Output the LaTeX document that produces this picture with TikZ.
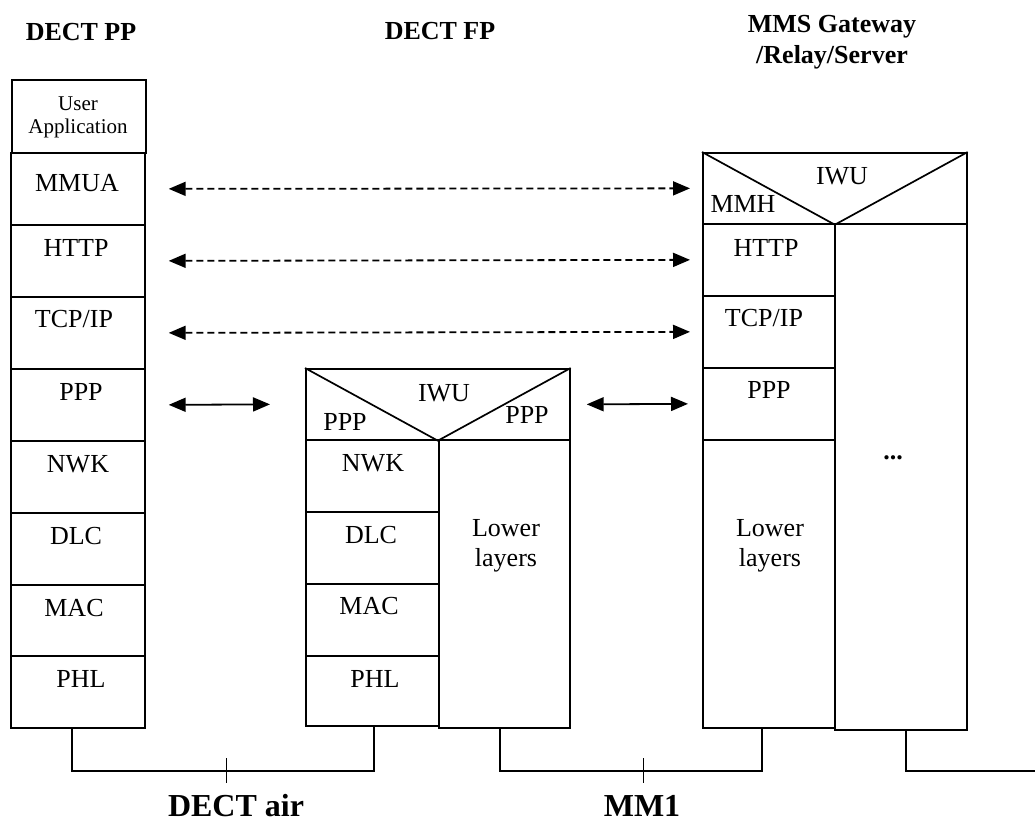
\documentclass[tikz,border=0pt]{standalone}
\usepackage{fontspec}
\setmainfont{Liberation Serif}
\usetikzlibrary{arrows.meta}
\begin{document}
\begin{tikzpicture}[x=1pt,y=-1pt,
  blk/.style={draw, line width=1.7pt, inner sep=0pt, anchor=north west},
  lbl/.style={inner sep=0pt, font=\fontsize{26}{30}\selectfont, align=center},
  small/.style={inner sep=0pt, font=\fontsize{21}{23}\selectfont, align=center},
  title/.style={inner sep=0pt, font=\bfseries\fontsize{26}{31}\selectfont, align=center},
  iface/.style={inner sep=0pt, font=\bfseries\fontsize{32}{36}\selectfont},
  peer/.style={line width=1.8pt, dash pattern=on 7pt off 4pt, {Triangle[length=17pt,width=14pt]}-{Triangle[length=17pt,width=14pt]}},
  link/.style={line width=1.8pt, {Triangle[length=17pt,width=14pt]}-{Triangle[length=17pt,width=14pt]}},
  bus/.style={line width=1.4pt},
  tickmark/.style={line width=1pt}]
\useasboundingbox (0,0) rectangle (1035,823);

% ---------- titles ----------
\node[title] (ttlPP) at (81,32) {DECT PP};
\node[title] (ttlFP) at (440,31) {DECT FP};
\node[title] (ttlGW) at (832,42) {MMS Gateway\\/Relay/Server};

% ---------- DECT PP stack ----------
\node[blk, minimum width=134pt, minimum height=73pt] (ppApp) at (11,79) {};
\node[blk, minimum width=134pt, minimum height=72pt] (ppMmua) at (10,152) {};
\node[blk, minimum width=134pt, minimum height=72pt] (ppHttp) at (10,224) {};
\node[blk, minimum width=134pt, minimum height=72pt] (ppTcp)  at (10,296) {};
\node[blk, minimum width=134pt, minimum height=72pt] (ppPpp)  at (10,368) {};
\node[blk, minimum width=134pt, minimum height=72pt] (ppNwk)  at (10,440) {};
\node[blk, minimum width=134pt, minimum height=72pt] (ppDlc)  at (10,512) {};
\node[blk, minimum width=134pt, minimum height=71pt] (ppMac)  at (10,584) {};
\node[blk, minimum width=134pt, minimum height=72pt] (ppPhl)  at (10,655) {};

\node[small] (ppAppT) at (78,117) {User\\Application};
\node[lbl] (ppMmuaT) at (77,183) {MMUA};
\node[lbl] (ppHttpT) at (76,248) {HTTP};
\node[lbl] (ppTcpT)  at (74,319) {TCP/IP};
\node[lbl] (ppPppT)  at (81,392) {PPP};
\node[lbl] (ppNwkT)  at (78,464) {NWK};
\node[lbl] (ppDlcT)  at (76,536) {DLC};
\node[lbl] (ppMacT)  at (74,608) {MAC};
\node[lbl] (ppPhlT)  at (81,679) {PHL};

% ---------- DECT FP stack ----------
\node[blk, minimum width=264pt, minimum height=71pt] (fpIwu) at (305,368) {};
\draw[line width=1.7pt] (fpIwu.north west) -- (fpIwu.south) -- (fpIwu.north east);
\node[blk, minimum width=133pt, minimum height=72pt] (fpNwk) at (305,439) {};
\node[blk, minimum width=133pt, minimum height=72pt] (fpDlc) at (305,511) {};
\node[blk, minimum width=133pt, minimum height=72pt] (fpMac) at (305,583) {};
\node[blk, minimum width=133pt, minimum height=70pt] (fpPhl) at (305,655) {};
\node[blk, minimum width=131pt, minimum height=288pt] (fpLow) at (438,439) {};

\node[lbl] (fpIwuT)  at (444,393) {IWU};
\node[lbl] (fpPppL)  at (345,422) {PPP};
\node[lbl] (fpPppR)  at (527,415) {PPP};
\node[lbl] (fpNwkT)  at (373,463) {NWK};
\node[lbl] (fpDlcT)  at (371,535) {DLC};
\node[lbl] (fpMacT)  at (369,606) {MAC};
\node[lbl] (fpPhlT)  at (375,679) {PHL};
\node[lbl] (fpLowT)  at (506,546) {Lower\\layers};

% ---------- MMS gateway stack ----------
\node[blk, minimum width=264pt, minimum height=71pt] (gwIwu) at (702,152) {};
\draw[line width=1.7pt] (gwIwu.north west) -- (gwIwu.south) -- (gwIwu.north east);
\node[blk, minimum width=132pt, minimum height=72pt] (gwHttp) at (702,223) {};
\node[blk, minimum width=132pt, minimum height=72pt] (gwTcp)  at (702,295) {};
\node[blk, minimum width=132pt, minimum height=72pt] (gwPpp)  at (702,367) {};
\node[blk, minimum width=132pt, minimum height=288pt] (gwLow) at (702,439) {};
\node[blk, minimum width=132pt, minimum height=506pt] (gwExt) at (834,223) {};

\node[lbl] (gwIwuT)  at (842,176) {IWU};
\node[lbl] (gwMmhT)  at (743,204) {MMH};
\node[lbl] (gwHttpT) at (766,248) {HTTP};
\node[lbl] (gwTcpT)  at (764,318) {TCP/IP};
\node[lbl] (gwPppT)  at (769,390) {PPP};
\node[lbl] (gwLowT)  at (770,546) {Lower\\layers};
\node[lbl] (gwExtT)  at (893,458) {\textbf{...}};

% ---------- peer-to-peer relations ----------
\draw[peer] ([xshift=23pt]ppMmua.east) -- ([xshift=-12pt]gwIwu.west);
\draw[peer] ([xshift=23pt]ppHttp.east) -- ([xshift=-12pt]gwHttp.west);
\draw[peer] ([xshift=23pt]ppTcp.east)  -- ([xshift=-12pt]gwTcp.west);
\draw[link] ([xshift=23pt]ppPpp.east)  -- ([xshift=-35pt]fpIwu.west);
\draw[link] ([xshift=16pt]fpIwu.east)  -- ([xshift=-14pt]gwPpp.west);

% ---------- interfaces ----------
\coordinate (airL)   at (72,771);
\coordinate (airR)   at (374,771);
\coordinate (airMid) at (226,771);
\draw[bus] (ppPhl.south -| airL) -- (airL) -- (airR) -- (fpPhl.south -| airR);
\draw[tickmark] ([yshift=13pt]airMid) -- ([yshift=-12pt]airMid);
\node[iface] (airT) at (236,806) {DECT air};

\coordinate (mmL)   at (500,771);
\coordinate (mmR)   at (762,771);
\coordinate (mmMid) at (643,771);
\draw[bus] (fpLow.south -| mmL) -- (mmL) -- (mmR) -- (gwLow.south -| mmR);
\draw[tickmark] ([yshift=13pt]mmMid) -- ([yshift=-12pt]mmMid);
\node[iface] (mmT) at (642,806) {MM1};

\coordinate (extBend) at (906,771);
\coordinate (extEnd)  at (1035,771);
\draw[bus] (gwExt.south -| extBend) -- (extBend) -- (extEnd);
\end{tikzpicture}
\end{document}
